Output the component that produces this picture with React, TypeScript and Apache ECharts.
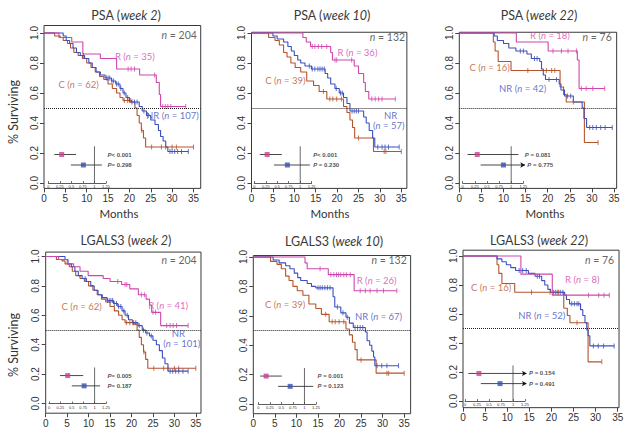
import { useEffect, useRef } from 'react';
import * as echarts from 'echarts';

type Pt = [number, number];

// ---------- ticks ----------
const monthTicks = [0, 5, 10, 15, 20, 25, 30, 35];
const survTicks = [0, 0.2, 0.4, 0.6, 0.8, 1.0];
const hrTicks = [0, 0.25, 0.5, 0.75, 1, 1.25];

// ---------- panel headers ----------
const markers = ['PSA', 'PSA', 'PSA', 'LGALS3', 'LGALS3', 'LGALS3'];
const weeks = ['week 2', 'week 10', 'week 22', 'week 2', 'week 10', 'week 22'];
const totalN = [204, 132, 76, 204, 132, 76];
const rN = [35, 36, 18, 41, 26, 8];
const cN = [62, 39, 16, 62, 39, 16];
const nrN = [107, 57, 42, 101, 67, 52];

// ---------- control (C) curves: [month, survival after drop] ----------
const cWeek2: Pt[] = [[0, 1], [2.5, 0.98], [3.8, 0.97], [4.5, 0.95], [5.5, 0.93], [6.2, 0.9], [7, 0.87], [8, 0.85], [9, 0.83], [10, 0.8], [11, 0.77], [12, 0.74], [13, 0.71], [14, 0.69], [15, 0.66], [16, 0.63], [17, 0.6], [17.8, 0.57], [18.5, 0.55], [20.5, 0.54], [21.3, 0.5], [21.8, 0.45], [22.3, 0.4], [22.8, 0.35], [23.3, 0.3], [23.8, 0.24]];
const cWeek2Cens = [18.8, 19.6, 20.3, 22.9, 25.2, 27.5, 28.5, 30, 31, 35];
const cWeek10: Pt[] = [[0, 1], [4, 0.97], [5.5, 0.95], [6.5, 0.92], [7.5, 0.87], [8.3, 0.84], [9.2, 0.8], [10.2, 0.77], [11.5, 0.74], [12.9, 0.68], [14.5, 0.65], [15.8, 0.61], [17.6, 0.56], [21.5, 0.51], [22.3, 0.47], [23, 0.42], [23.6, 0.37], [24.1, 0.3], [28.5, 0.21]];
const cWeek10Cens = [16.8, 18.3, 19, 19.9, 21, 25, 31, 31.4, 35];
const cWeek22: Pt[] = [[0, 1], [7.7, 0.94], [8.1, 0.88], [8.8, 0.81], [11.7, 0.75], [22.8, 0.64], [23.6, 0.59], [24.2, 0.54], [28.3, 0.27]];
const cWeek22Cens = [15.5, 19.7, 20.9, 21.6, 25.8, 31.4];

// ---------- responder (R) curves ----------
const rPsa2: Pt[] = [[0, 1], [3.5, 0.97], [6.5, 0.94], [9.1, 0.86], [13.2, 0.83], [17, 0.76], [22.4, 0.72], [26.3, 0.67], [27, 0.59], [27.3, 0.51]];
const rPsa2Cens = [19.7, 20.4, 21.2, 25.9, 27.8, 28.4, 29, 29.7, 33.2];
const rPsa10: Pt[] = [[0, 1], [12, 0.97], [12.8, 0.94], [13.8, 0.91], [18.5, 0.87], [18.9, 0.82], [24, 0.78], [25, 0.73], [26.2, 0.67], [26.6, 0.61], [27.4, 0.56]];
const rPsa10Cens = [14.2, 14.8, 15.6, 16.4, 17.6, 19.5, 19.9, 23.4, 28.1, 28.9, 29.7, 30.5, 33.6];
const rPsa22: Pt[] = [[0, 1], [12.9, 0.94], [20.1, 0.88], [26.7, 0.82], [27.1, 0.63]];
const rPsa22Cens = [21.2, 23.1, 24.6, 26.5, 27.6, 28.7, 30.2, 32.9];
const rLg2: Pt[] = [[0, 1], [3, 0.98], [5, 0.95], [6.5, 0.93], [8, 0.9], [9.9, 0.87], [13.4, 0.85], [15, 0.83], [17.7, 0.81], [19.6, 0.78], [21.6, 0.74], [23.4, 0.71], [24.2, 0.67], [24.7, 0.62], [26.8, 0.53]];
const rLg2Cens = [16.8, 18.5, 18.9, 22.3, 23, 25, 25.6, 28.2, 29, 29.7, 30.5, 33.2];
const rLg10: Pt[] = [[0, 1], [12, 0.96], [12.5, 0.92], [17.4, 0.88], [23.4, 0.77]];
const rLg10Cens = [15.5, 18, 18.7, 19.3, 19.8, 20.3, 21, 21.6, 22.5, 24.8, 26, 27.1, 28.7, 30.2, 33.3];
const rLg22: Pt[] = [[0, 1], [13.1, 0.875], [20.2, 0.73]];
const rLg22Cens = [28.4, 30.7, 31.9, 33.1];

// ---------- non-responder (NR) curves ----------
const nrPsa2: Pt[] = [[0, 1], [4.5, 0.98], [5.2, 0.95], [6, 0.93], [6.8, 0.9], [7.6, 0.87], [8.5, 0.85], [9.5, 0.83], [10.5, 0.8], [11.3, 0.77], [12.2, 0.74], [13.2, 0.72], [14.3, 0.7], [15.8, 0.68], [16.8, 0.66], [17.8, 0.63], [18.5, 0.6], [19.2, 0.57], [20, 0.54], [22.3, 0.51], [23, 0.48], [24, 0.45], [25, 0.42], [26, 0.39], [26.8, 0.35], [27.3, 0.31], [27.9, 0.28], [28.5, 0.24], [29, 0.21]];
const nrPsa2Cens = [9.2, 14.6, 15, 15.4, 15.9, 16.3, 17, 17.4, 18, 18.8, 19.6, 20.6, 21.2, 21.8, 23.4, 24.4, 29.5, 30, 30.6, 31.3, 32.2, 33.8];
const nrPsa10: Pt[] = [[0, 1], [5, 0.98], [6, 0.96], [7.5, 0.94], [8.5, 0.91], [9.3, 0.88], [10, 0.85], [10.8, 0.82], [11.5, 0.8], [12.5, 0.78], [14, 0.76], [17.2, 0.73], [17.8, 0.7], [18.5, 0.66], [19.5, 0.63], [20.5, 0.6], [21.5, 0.57], [22.3, 0.53], [23, 0.48], [26.2, 0.44], [26.8, 0.4], [27.5, 0.35], [28.3, 0.3], [28.8, 0.24]];
const nrPsa10Cens = [13.5, 14.2, 14.8, 15.5, 16, 16.5, 17, 19.8, 20.8, 21.2, 23.5, 24, 24.5, 25, 29.5, 30.5, 31.2, 32, 34.5];
const nrPsa22: Pt[] = [[0, 1], [7.9, 0.98], [8.6, 0.95], [10, 0.93], [11.2, 0.9], [12.8, 0.88], [15.3, 0.86], [16.3, 0.83], [18.2, 0.81], [18.6, 0.76], [19, 0.72], [19.5, 0.69], [22.6, 0.66], [23, 0.62], [23.8, 0.58], [25.8, 0.54], [27.8, 0.5], [28.2, 0.43], [28.8, 0.37]];
const nrPsa22Cens = [13.8, 14.5, 17, 17.6, 20.3, 22, 24.5, 25.2, 29.5, 30.2, 31, 32, 33, 34.6];
const nrLg2: Pt[] = [[0, 1], [4.5, 0.98], [5.2, 0.95], [6, 0.93], [6.8, 0.9], [7.6, 0.87], [8.5, 0.85], [9.5, 0.83], [10.5, 0.8], [11.3, 0.77], [12.2, 0.74], [13.2, 0.72], [14.3, 0.7], [15.8, 0.68], [16.8, 0.66], [17.8, 0.63], [18.5, 0.6], [19.3, 0.57], [20.2, 0.55], [21.5, 0.53], [22.5, 0.5], [23.3, 0.48], [24.2, 0.46], [25, 0.43], [25.8, 0.4], [26.5, 0.36], [27.2, 0.31], [27.8, 0.27], [28.5, 0.22]];
const nrLg2Cens = [9.2, 14.4, 14.8, 15.2, 15.6, 16, 16.5, 17, 17.5, 18.2, 19, 20.5, 21, 21.8, 22.8, 23.6, 24.6, 29, 29.6, 30.3, 31, 32, 33.2];
const nrLg10: Pt[] = [[0, 1], [4.6, 0.98], [6, 0.96], [7.5, 0.94], [8.5, 0.92], [9.5, 0.89], [10.3, 0.86], [11, 0.84], [12.5, 0.82], [13.5, 0.8], [14.5, 0.79], [18.5, 0.73], [18.9, 0.66], [20.3, 0.62], [21.5, 0.59], [22.3, 0.55], [23.2, 0.52], [26, 0.49], [26.4, 0.43], [27, 0.4], [27.5, 0.36], [27.9, 0.32], [28.2, 0.26]];
const nrLg10Cens = [15, 15.5, 16, 16.6, 17.2, 17.8, 19.5, 20.8, 21.8, 23.6, 24.2, 24.8, 25.4, 28.7, 29.8, 31, 33.7];
const nrLg22: Pt[] = [[0, 1], [7.7, 0.98], [8.8, 0.96], [9.8, 0.94], [10.8, 0.92], [11.9, 0.9], [14.8, 0.88], [16.3, 0.86], [17.8, 0.83], [18.5, 0.8], [19.2, 0.77], [19.8, 0.75], [23, 0.73], [23.4, 0.7], [24.1, 0.67], [26.6, 0.63], [27.1, 0.59], [27.6, 0.54], [28, 0.49], [28.3, 0.45], [28.7, 0.38]];
const nrLg22Cens = [12.7, 13.5, 14.3, 16.8, 17.3, 20.5, 21.3, 22, 22.6, 24.6, 25.2, 25.8, 26.2, 29.5, 30.6, 31.8, 34.2];

// ---------- forest insets (hazard ratios) ----------
const rHR = [0.29, 0.28, 0.3, 0.41, 0.17, 0.29];
const rLo = [0.13, 0.12, 0.1, 0.24, 0.04, 0.07];
const rHi = [0.6, 0.6, 1.15, 0.75, 0.51, 1.4];
const nrHR = [0.76, 0.72, 0.84, 0.77, 0.69, 0.73];
const nrLo = [0.49, 0.43, 0.37, 0.5, 0.43, 0.33];
const nrHi = [1.16, 1.21, 1.4, 1.12, 1.19, 1.4];
const pR = ['< 0.001', '< 0.001', ' = 0.081', '= 0.005', ' = 0.001', ' = 0.154'];
const pNR = ['= 0.298', ' = 0.230', ' = 0.775', '= 0.187', ' = 0.123', ' = 0.491'];

const cCurves = [cWeek2, cWeek10, cWeek22, cWeek2, cWeek10, cWeek22];
const cCens = [cWeek2Cens, cWeek10Cens, cWeek22Cens, cWeek2Cens, cWeek10Cens, cWeek22Cens];
const rCurves = [rPsa2, rPsa10, rPsa22, rLg2, rLg10, rLg22];
const rCens = [rPsa2Cens, rPsa10Cens, rPsa22Cens, rLg2Cens, rLg10Cens, rLg22Cens];
const nrCurves = [nrPsa2, nrPsa10, nrPsa22, nrLg2, nrLg10, nrLg22];
const nrCens = [nrPsa2Cens, nrPsa10Cens, nrPsa22Cens, nrLg2Cens, nrLg10Cens, nrLg22Cens];

// ---------- layout (pixels / label anchors) ----------
const LAYOUT = [
  { x0: 44, k: 4.27, xmax: 36.7, y0: 183, ky: 150, ytop: 1.05, ybot: -0.036, hr0: 48.3, hrW: 57.7, nx: 35.8, ny: 0.985, tx: 126, ty: 15, mx: 119 },
  { x0: 251.5, k: 4.28, xmax: 36.3, y0: 183, ky: 150, ytop: 1.005, ybot: -0.036, hr0: 254.3, hrW: 57.4, nx: 35.9, ny: 0.975, tx: 332, ty: 15, mx: 330 },
  { x0: 459.3, k: 4.42, xmax: 35.6, y0: 183, ky: 150, ytop: 1.005, ybot: -0.036, hr0: 462.7, hrW: 60.6, nx: 34.5, ny: 0.975, tx: 539, ty: 15, mx: 545 },
  { x0: 45.7, k: 4.29, xmax: 36.2, y0: 403.5, ky: 147, ytop: 1.03, ybot: -0.066, hr0: 49, hrW: 57, nx: 35.2, ny: 0.978, tx: 126, ty: 240, mx: 0 },
  { x0: 253.3, k: 4.31, xmax: 36.5, y0: 404, ky: 147, ytop: 1.01, ybot: -0.066, hr0: 258.3, hrW: 57.7, nx: 35.6, ny: 0.98, tx: 334, ty: 241, mx: 0 },
  { x0: 463, k: 4.42, xmax: 35.3, y0: 401, ky: 145, ytop: 1.04, ybot: -0.046, hr0: 465, hrW: 60, nx: 34.2, ny: 0.974, tx: 539, ty: 240, mx: 0 },
];
const LABELPOS: any[] = [
  { r: [16.6, 0.845], c: [3.4, 0.66], nr: [23.9, 0.45] },
  { r: [20.1, 0.873], c: [3.2, 0.684], nrTop: [32.5, 0.45], nr: [28.4, 0.384] },
  { r: [16.0, 0.985], c: [2.3, 0.773], nr: [9.0, 0.63] },
  { r: [23.9, 0.67], c: [3.7, 0.66], nrTop: [30.9, 0.473], nr: [27.4, 0.405] },
  { r: [24.0, 0.84], c: [2.7, 0.68], nr: [23.6, 0.595] },
  { r: [23.1, 0.836], c: [1.8, 0.78], nr: [12.5, 0.59] },
];

const PINK = '#cf46ad';
const BROWN = '#b5532b';
const BLUE = '#3c4fbd';
const SQ_PINK = '#c93f93';
const SQ_BLUE = '#3551b0';
const INK = '#333';
const TITLE_INK = '#3a3a3a';
const TXT_FONT = 'Lato';
const NUM_FONT = 'Liberation Sans';
const TITLE_SIZE = 12.5;

function survAt(curve: Pt[], t: number) {
  let s = 1;
  for (const [x, y] of curve) {
    if (x <= t) s = y;
    else break;
  }
  return s;
}
function extend(curve: Pt[], cens: number[]): Pt[] {
  const last = curve[curve.length - 1];
  const end = Math.max(last[0], ...cens);
  return end > last[0] ? [...curve, [end, last[1]]] : curve;
}
const richFor = (color: string, size: number) => ({
  a: { color, fontSize: size, fontFamily: TXT_FONT, fontWeight: 'normal' },
  i: { color, fontSize: size, fontFamily: TXT_FONT, fontStyle: 'italic', fontWeight: 'normal' },
});

let measureCtx: CanvasRenderingContext2D | null = null;
function textWidth(text: string, italic: boolean) {
  if (!measureCtx) measureCtx = document.createElement('canvas').getContext('2d');
  if (!measureCtx) return text.length * TITLE_SIZE * 0.5;
  measureCtx.font = `${italic ? 'italic ' : ''}normal ${TITLE_SIZE}px ${TXT_FONT}`;
  return measureCtx.measureText(text).width;
}

function buildOption() {
  const grid: any[] = [];
  const xAxis: any[] = [];
  const yAxis: any[] = [];
  const series: any[] = [];
  const graphic: any[] = [];

  for (let p = 0; p < 6; p++) {
    const L = LAYOUT[p];
    const LP = LABELPOS[p];
    const gi = 2 * p;
    const ii = 2 * p + 1;
    grid.push({
      left: L.x0, top: L.y0 - L.ytop * L.ky, width: L.xmax * L.k, height: (L.ytop - L.ybot) * L.ky,
      show: true, borderColor: '#3a3a3a', borderWidth: 1, backgroundColor: 'transparent',
    });
    grid.push({ left: L.hr0, top: L.y0 - 0.3 * L.ky, width: L.hrW, height: 0.3 * L.ky });

    xAxis.push({
      gridIndex: gi, type: 'value', min: 0, max: L.xmax,
      axisLine: { show: false, onZero: false }, splitLine: { show: false },
      axisTick: { show: true, customValues: monthTicks, length: 4, lineStyle: { color: '#444' } },
      axisLabel: { customValues: monthTicks, fontSize: 10, color: INK, margin: 5, fontFamily: NUM_FONT },
    });
    xAxis.push({
      gridIndex: ii, type: 'value', min: 0, max: 1.25, position: 'bottom',
      axisLine: { show: true, onZero: false, lineStyle: { color: '#333', width: 0.8 } },
      splitLine: { show: false },
      axisTick: { show: true, inside: true, length: 2, customValues: hrTicks, lineStyle: { color: '#333', width: 0.7 } },
      axisLabel: { customValues: hrTicks, fontSize: 4, color: '#333', margin: 1.5, fontFamily: NUM_FONT, formatter: (v: number) => String(v) },
    });
    yAxis.push({
      gridIndex: gi, type: 'value', min: L.ybot, max: L.ytop,
      axisLine: { show: false, onZero: false }, splitLine: { show: false },
      axisTick: { show: true, customValues: survTicks, length: 4, lineStyle: { color: '#444' } },
      axisLabel: { customValues: survTicks, fontSize: 10, color: INK, margin: 5, rotate: 90, fontFamily: NUM_FONT, formatter: (v: number) => v.toFixed(1) },
    });
    yAxis.push({ gridIndex: ii, type: 'value', min: 0, max: 0.3, show: false });

    const curves: [Pt[], number[], string][] = [
      [cCurves[p], cCens[p], BROWN],
      [nrCurves[p], nrCens[p], BLUE],
      [rCurves[p], rCens[p], PINK],
    ];
    curves.forEach(([curve, cens, color], ci) => {
      const s: any = {
        type: 'line', xAxisIndex: gi, yAxisIndex: gi, data: extend(curve, cens), step: 'end',
        symbol: 'none', lineStyle: { color, width: 1.1 }, silent: true, z: 3,
      };
      if (ci === 0) {
        s.markLine = {
          silent: true, symbol: ['none', 'none'], label: { show: false },
          lineStyle: { type: 'dotted', color: '#222', width: 1 }, data: [{ yAxis: 0.5 }],
        };
      }
      series.push(s);
      series.push({
        type: 'scatter', xAxisIndex: gi, yAxisIndex: gi,
        data: cens.map((t) => [t, survAt(curve, t)]),
        symbol: 'rect', symbolSize: [1, 5], itemStyle: { color }, silent: true, z: 4,
      });
    });

    // group labels
    const lab = (x: number, y: number, text: string, color: string, position: string, size = 9.5) => ({
      value: [x, y],
      label: { show: true, position, distance: 0, formatter: text, rich: richFor(color, size) },
    });
    const labels: any[] = [
      lab(LP.r[0], LP.r[1], `{a|R (}{i|n}{a| = ${rN[p]})}`, PINK, 'right'),
      lab(LP.c[0], LP.c[1], `{a|C (}{i|n}{a| = ${cN[p]})}`, BROWN, 'right'),
      lab(L.nx, L.ny, `{i|n}{a| = ${totalN[p]}}`, TITLE_INK, 'left', 10.5),
    ];
    if (LP.nrTop) {
      labels.push(lab(LP.nrTop[0], LP.nrTop[1], `{a|NR}`, BLUE, 'inside'));
      labels.push(lab(LP.nr[0], LP.nr[1], `{a|(}{i|n}{a| = ${nrN[p]})}`, BLUE, 'right'));
    } else {
      labels.push(lab(LP.nr[0], LP.nr[1], `{a|NR (}{i|n}{a| = ${nrN[p]})}`, BLUE, 'right'));
    }
    series.push({
      type: 'scatter', xAxisIndex: gi, yAxisIndex: gi, symbolSize: 0, silent: true, z: 5,
      data: labels, label: { show: true },
    });

    // forest inset
    series.push({
      type: 'line', xAxisIndex: ii, yAxisIndex: ii, data: [[1, 0], [1, 0.245]], symbol: 'none',
      lineStyle: { color: '#444', width: 0.8 }, silent: true, z: 6,
    });
    const rows: [number, number, number, number, string, string][] = [
      [rHR[p], rLo[p], rHi[p], 0.19, SQ_PINK, pR[p]],
      [nrHR[p], nrLo[p], nrHi[p], 0.12, SQ_BLUE, pNR[p]],
    ];
    rows.forEach(([hr, lo, hi, y, color, ptxt]) => {
      const arrow = hi > 1.25;
      series.push({
        type: 'line', xAxisIndex: ii, yAxisIndex: ii, clip: false, silent: true, z: 6,
        showSymbol: true, lineStyle: { color: '#333', width: 0.9 }, itemStyle: { color: '#111' },
        data: [
          { value: [lo, y], symbol: 'none' },
          arrow
            ? { value: [1.29, y], symbol: 'arrow', symbolSize: [4, 5], symbolRotate: -90 }
            : { value: [hi, y], symbol: 'none' },
        ],
      });
      series.push({
        type: 'scatter', xAxisIndex: ii, yAxisIndex: ii, data: [[hr, y]], symbol: 'rect', symbolSize: 5,
        itemStyle: { color }, silent: true, z: 7,
      });
      series.push({
        type: 'scatter', xAxisIndex: ii, yAxisIndex: ii, symbolSize: 0, silent: true, z: 7, clip: false,
        data: [{
          value: [1.25, y],
          label: {
            show: true, position: 'right', distance: arrow ? 4 : 1.5,
            formatter: `{i|P}{b|${ptxt}}`,
            rich: {
              i: { fontSize: 6, fontWeight: 'bold', fontStyle: 'italic', color: '#222', fontFamily: NUM_FONT },
              b: { fontSize: 6, fontWeight: 'bold', color: '#222', fontFamily: NUM_FONT },
            },
          },
        }],
      });
    });

    // title as plain text pieces (upright marker, italic week)
    const parts: [string, boolean][] = [[`${markers[p]} (`, false], [weeks[p], true], [')', false]];
    const widths = parts.map(([t, it]) => textWidth(t, it));
    let cx = L.tx - widths.reduce((a, b) => a + b, 0) / 2;
    parts.forEach(([t, it], j) => {
      graphic.push({
        type: 'text', x: cx, y: L.ty, silent: true,
        style: {
          text: t, align: 'left', verticalAlign: 'middle', fontSize: TITLE_SIZE, fontFamily: TXT_FONT,
          fontWeight: 'normal', fontStyle: it ? 'italic' : 'normal', fill: TITLE_INK,
        },
      });
      cx += widths[j];
    });
    if (L.mx) {
      graphic.push({
        type: 'text', x: L.mx, y: 213, silent: true,
        style: { text: 'Months', align: 'center', verticalAlign: 'middle', fontSize: 11.5, fontWeight: 'normal', fontFamily: TXT_FONT, fill: '#333' },
      });
    }
  }
  [112, 345].forEach((cy) => {
    graphic.push({
      type: 'text', x: 13.5, y: cy, rotation: Math.PI / 2, silent: true,
      style: { text: '% Surviving', align: 'center', verticalAlign: 'middle', fontSize: 12.5, fontWeight: 'normal', fontFamily: TXT_FONT, fill: '#333' },
    });
  });

  return {
    animation: false,
    backgroundColor: '#fff',
    grid, xAxis, yAxis, series, graphic,
  };
}

export default function App() {
  const ref = useRef<HTMLDivElement>(null);
  useEffect(() => {
    if (!ref.current) return;
    const chart = echarts.init(ref.current, undefined, { renderer: 'svg' });
    chart.setOption(buildOption() as any);
    return () => chart.dispose();
  }, []);
  return <div ref={ref} style={{ position: 'absolute', left: 0, top: 0, width: 629, height: 434 }} />;
}
